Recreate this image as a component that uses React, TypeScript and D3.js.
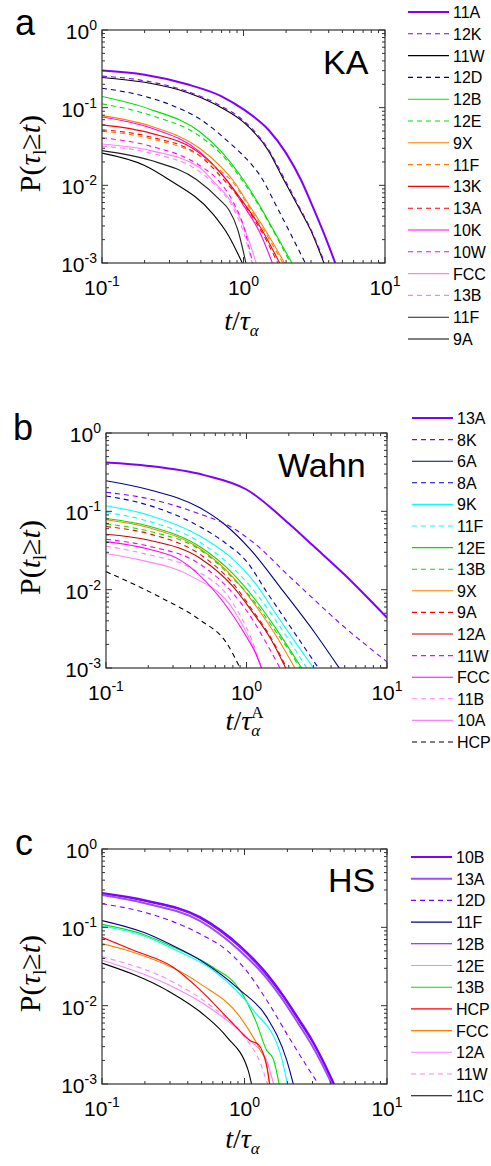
import React from "react";
import * as d3 from "d3";

type Pt = [number, number];

// ---------- Panel a (KA) ----------
const kaLabels = ["11A", "12K", "11W", "12D", "12B", "12E", "9X", "11F", "13K", "13A", "10K", "10W", "FCC", "13B", "11F", "9A"];
const ka11A: Pt[] = [[0.1, 0.30], [0.2, 0.265], [0.4, 0.2], [0.7, 0.14], [1, 0.095], [1.5, 0.052], [2, 0.026], [2.55, 0.0117], [3, 0.006], [3.7, 0.0024], [4.45, 0.001]];
const ka12K: Pt[] = [[0.1, 0.255], [0.2, 0.222], [0.4, 0.162], [0.7, 0.104], [1, 0.068], [1.5, 0.029], [1.9, 0.0132], [2.5, 0.0051], [3, 0.0027], [3.75, 0.001]];
const ka11W: Pt[] = [[0.1, 0.245], [0.2, 0.212], [0.4, 0.157], [0.7, 0.1], [1, 0.065], [1.5, 0.028], [1.88, 0.0128], [2.5, 0.0049], [3, 0.0026], [3.7, 0.001]];
const ka12D: Pt[] = [[0.1, 0.178], [0.2, 0.14], [0.3, 0.11], [0.5, 0.07], [0.8, 0.035], [1, 0.024], [1.36, 0.012], [1.7, 0.0055], [2.1, 0.0026], [2.73, 0.001]];
const ka12B: Pt[] = [[0.1, 0.139], [0.22, 0.095], [0.49, 0.049], [0.7, 0.027], [1, 0.0117], [1.3, 0.0055], [1.62, 0.0027], [2.2, 0.001]];
const ka12E: Pt[] = [[0.1, 0.112], [0.22, 0.08], [0.49, 0.043], [0.7, 0.025], [1, 0.011], [1.3, 0.0053], [1.62, 0.0026], [2.15, 0.001]];
const ka9X: Pt[] = [[0.1, 0.079], [0.22, 0.058], [0.49, 0.03], [0.7, 0.017], [0.84, 0.0117], [1.1, 0.0055], [1.4, 0.0028], [1.95, 0.001]];
const ka11Fo: Pt[] = [[0.1, 0.05], [0.22, 0.04], [0.49, 0.024], [0.7, 0.015], [0.84, 0.011], [1.1, 0.0052], [1.4, 0.0026], [1.9, 0.001]];
const ka13K: Pt[] = [[0.1, 0.06], [0.22, 0.047], [0.49, 0.026], [0.76, 0.0117], [1, 0.006], [1.3, 0.003], [1.8, 0.001]];
const ka13A: Pt[] = [[0.1, 0.052], [0.22, 0.042], [0.49, 0.024], [0.75, 0.011], [1, 0.0058], [1.3, 0.0028], [1.75, 0.001]];
const ka10K: Pt[] = [[0.1, 0.076], [0.22, 0.055], [0.49, 0.027], [0.76, 0.0117], [1, 0.0055], [1.3, 0.0025], [1.6, 0.001]];
const ka10W: Pt[] = [[0.1, 0.041], [0.22, 0.032], [0.49, 0.018], [0.66, 0.0117], [0.85, 0.006], [1.0, 0.003], [1.16, 0.001]];
const kaFCC: Pt[] = [[0.1, 0.034], [0.22, 0.028], [0.49, 0.017], [0.6, 0.0117], [0.85, 0.0055], [1.0, 0.003], [1.23, 0.001]];
const ka13B: Pt[] = [[0.1, 0.032], [0.22, 0.026], [0.49, 0.015], [0.6, 0.011], [0.85, 0.005], [1.0, 0.0025], [1.15, 0.001]];
const ka11Fk: Pt[] = [[0.1, 0.028], [0.22, 0.021], [0.47, 0.0117], [0.68, 0.0065], [0.79, 0.0048], [0.91, 0.0027], [1.04, 0.001]];
const ka9A: Pt[] = [[0.1, 0.026], [0.2, 0.018], [0.3, 0.0117], [0.6, 0.0044], [0.79, 0.0022], [0.98, 0.001]];
const kaValues: Pt[][] = [ka11A, ka12K, ka11W, ka12D, ka12B, ka12E, ka9X, ka11Fo, ka13K, ka13A, ka10K, ka10W, kaFCC, ka13B, ka11Fk, ka9A];

// ---------- Panel b (Wahn) ----------
const wLabels = ["13A", "8K", "6A", "8A", "9K", "11F", "12E", "13B", "9X", "9A", "12A", "11W", "FCC", "11B", "10A", "HCP"];
const w13A: Pt[] = [[0.1, 0.42], [0.2, 0.38], [0.5, 0.29], [1, 0.19], [2, 0.07], [3, 0.036], [5, 0.0155], [7, 0.0085], [10, 0.0044]];
const w8K: Pt[] = [[0.1, 0.175], [0.2, 0.145], [0.47, 0.092], [0.72, 0.068], [1.12, 0.04], [2, 0.015], [3, 0.0076], [5, 0.0033], [7, 0.002], [10, 0.0012]];
const w6A: Pt[] = [[0.1, 0.246], [0.2, 0.19], [0.47, 0.11], [0.7, 0.068], [1.06, 0.033], [1.83, 0.0095], [3.07, 0.0028], [4.57, 0.001]];
const w8A: Pt[] = [[0.1, 0.157], [0.2, 0.12], [0.47, 0.063], [0.7, 0.04], [1.0, 0.023], [1.4, 0.0092], [2.0, 0.0036], [2.6, 0.0018], [3.25, 0.001]];
const w9K: Pt[] = [[0.1, 0.118], [0.2, 0.09], [0.47, 0.048], [0.81, 0.024], [1.2, 0.011], [1.55, 0.0055], [2.2, 0.0022], [3.0, 0.001]];
const w11F: Pt[] = [[0.1, 0.097], [0.2, 0.075], [0.47, 0.04], [0.8, 0.019], [1.2, 0.0085], [1.55, 0.0045], [2.1, 0.002], [2.68, 0.001]];
const w12E: Pt[] = [[0.1, 0.081], [0.2, 0.065], [0.47, 0.035], [0.8, 0.016], [1.2, 0.0068], [1.6, 0.0033], [2.0, 0.0018], [2.47, 0.001]];
const w13B: Pt[] = [[0.1, 0.069], [0.2, 0.056], [0.47, 0.032], [0.8, 0.014], [1.2, 0.0062], [1.6, 0.003], [2.0, 0.0017], [2.4, 0.001]];
const w9X: Pt[] = [[0.1, 0.078], [0.2, 0.062], [0.47, 0.033], [0.8, 0.0145], [1.2, 0.0058], [1.6, 0.0027], [2.21, 0.001]];
const w9A: Pt[] = [[0.1, 0.064], [0.2, 0.052], [0.47, 0.028], [0.8, 0.012], [1.1, 0.0055], [1.5, 0.0024], [1.93, 0.001]];
const w12A: Pt[] = [[0.1, 0.051], [0.2, 0.043], [0.47, 0.025], [0.8, 0.011], [1.1, 0.0052], [1.5, 0.0023], [1.9, 0.001]];
const w11W: Pt[] = [[0.1, 0.044], [0.2, 0.036], [0.47, 0.021], [0.8, 0.009], [1.1, 0.0042], [1.4, 0.002], [1.73, 0.001]];
const wFCC: Pt[] = [[0.1, 0.041], [0.2, 0.033], [0.336, 0.024], [0.61, 0.009], [1.0, 0.0025], [1.15, 0.0016], [1.28, 0.001]];
const w11B: Pt[] = [[0.1, 0.036], [0.2, 0.028], [0.4, 0.019], [0.81, 0.0065], [1.1, 0.0022], [1.28, 0.001]];
const w10A: Pt[] = [[0.1, 0.029], [0.174, 0.024], [0.4, 0.015], [0.81, 0.0055], [1.11, 0.0019], [1.28, 0.001]];
const wHCP: Pt[] = [[0.1, 0.017], [0.24, 0.0081], [0.466, 0.0041], [0.72, 0.0021], [0.9, 0.001]];
const wValues: Pt[][] = [w13A, w8K, w6A, w8A, w9K, w11F, w12E, w13B, w9X, w9A, w12A, w11W, wFCC, w11B, w10A, wHCP];

// ---------- Panel c (HS) ----------
const hLabels = ["10B", "13A", "12D", "11F", "12B", "12E", "13B", "HCP", "FCC", "12A", "11W", "11C"];
const h10B: Pt[] = [[0.1, 0.275], [0.2, 0.222], [0.49, 0.135], [0.93, 0.058], [1.4, 0.027], [1.87, 0.0135], [2.4, 0.0068], [2.89, 0.004], [3.5, 0.0021], [4.25, 0.001]];
const h13A: Pt[] = [[0.1, 0.258], [0.2, 0.203], [0.49, 0.12], [0.93, 0.05], [1.4, 0.0235], [1.87, 0.0117], [2.4, 0.0058], [2.89, 0.0034], [3.5, 0.0018], [4.1, 0.001]];
const h12D: Pt[] = [[0.1, 0.2], [0.2, 0.155], [0.49, 0.082], [0.75, 0.051], [1.0, 0.03], [1.43, 0.0118], [2.04, 0.004], [2.73, 0.0017], [3.3, 0.001]];
const h11F: Pt[] = [[0.1, 0.122], [0.2, 0.085], [0.316, 0.058], [0.49, 0.038], [0.93, 0.0158], [1.43, 0.0072], [1.98, 0.002], [2.2, 0.001]];
const h12B: Pt[] = [[0.1, 0.27], [0.2, 0.215], [0.49, 0.13], [0.93, 0.055], [1.4, 0.0255], [1.87, 0.0128], [2.4, 0.0064], [2.89, 0.0038], [3.5, 0.002], [4.2, 0.001]];
const h12E: Pt[] = [[0.1, 0.104], [0.2, 0.077], [0.316, 0.053], [0.6, 0.0285], [1.15, 0.0088], [1.78, 0.0025], [2.0, 0.001]];
const h13B: Pt[] = [[0.1, 0.109], [0.2, 0.08], [0.316, 0.056], [0.6, 0.031], [0.93, 0.0158], [1.22, 0.0059], [1.43, 0.0027], [1.59, 0.0021], [1.75, 0.001]];
const hHCP: Pt[] = [[0.1, 0.0745], [0.166, 0.051], [0.316, 0.031], [0.49, 0.0158], [0.83, 0.0059], [1.09, 0.0036], [1.25, 0.0032], [1.35, 0.0025], [1.43, 0.0017], [1.5, 0.001]];
const hFCC: Pt[] = [[0.1, 0.062], [0.149, 0.051], [0.49, 0.019], [0.93, 0.0072], [1.29, 0.0027], [1.43, 0.0018], [1.5, 0.001]];
const h12A: Pt[] = [[0.1, 0.038], [0.284, 0.019], [0.6, 0.0088], [1.09, 0.0036], [1.43, 0.002], [1.6, 0.001]];
const h11W: Pt[] = [[0.1, 0.042], [0.3, 0.021], [0.6, 0.0095], [1.0, 0.004], [1.3, 0.0018], [1.45, 0.001]];
const h11C: Pt[] = [[0.1, 0.035], [0.284, 0.0158], [0.54, 0.0072], [0.75, 0.004], [1.06, 0.0015], [1.12, 0.001]];
const hValues: Pt[][] = [h10B, h13A, h12D, h11F, h12B, h12E, h13B, hHCP, hFCC, h12A, h11W, h11C];

const xTickVals = [0.1, 1, 10];
const yTickVals = [1, 0.1, 0.01, 0.001];

// ---------- styles ----------
type Sty = { c: string; d?: boolean; w?: number };
const PU = "#7f00ff", NV = "#00008b", GR = "#00e000", OR = "#ff8000", RD = "#ff0000", MG = "#ff00ff", PK = "#ff80ff", CY = "#00ffff", BK = "#000000";
const kaStyles: Sty[] = [
  { c: PU, w: 2 }, { c: PU, d: true }, { c: BK }, { c: NV, d: true }, { c: GR }, { c: GR, d: true },
  { c: OR }, { c: OR, d: true }, { c: RD }, { c: RD, d: true }, { c: MG }, { c: MG, d: true },
  { c: PK }, { c: PK, d: true }, { c: "#222" }, { c: BK },
];
const wStyles: Sty[] = [
  { c: PU, w: 2 }, { c: PU, d: true }, { c: NV }, { c: "#0000c0", d: true }, { c: CY }, { c: CY, d: true },
  { c: GR }, { c: GR, d: true }, { c: OR }, { c: RD, d: true }, { c: "#cc0000" }, { c: MG, d: true },
  { c: MG }, { c: PK, d: true }, { c: PK }, { c: BK, d: true },
];
const hStyles: Sty[] = [
  { c: PU, w: 2 }, { c: "#9b4dff", w: 2 }, { c: PU, d: true }, { c: NV }, { c: PU }, { c: CY },
  { c: GR }, { c: RD }, { c: OR }, { c: PK }, { c: PK, d: true }, { c: BK },
];

const SANS = "'Liberation Sans', Arial, sans-serif";
const SERIF = "'Liberation Serif', 'Times New Roman', serif";

type PanelProps = {
  id: string;
  x0: number; x1: number; y0: number; y1: number;
  values: Pt[][]; labels: string[]; styles: Sty[];
  legY: number; legStep: number; legX: number;
  letter: string; letterX: number; letterY: number;
  name: string; nameX: number; nameY: number;
  ylab: "tau" | "t"; xlabY: number; xlabA?: boolean;
};

function Panel(p: PanelProps) {
  const xs = d3.scaleLog().domain([0.1, 10]).range([p.x0, p.x1]);
  const ys = d3.scaleLog().domain([0.001, 1]).range([p.y1, p.y0]);
  const line = d3.line<Pt>().x((d) => xs(d[0])).y((d) => ys(d[1])).curve(d3.curveMonotoneX);
  const minorX: number[] = [];
  [0.1, 1].forEach((b) => { for (let k = 2; k <= 9; k++) minorX.push(b * k); });
  const minorY: number[] = [];
  [0.001, 0.01, 0.1].forEach((b) => { for (let k = 2; k <= 9; k++) minorY.push(b * k); });
  const ax = "#333";
  const cy = (p.y0 + p.y1) / 2 + 7;
  const cx = (p.x0 + p.x1) / 2;
  return (
    <g>
      <defs>
        <clipPath id={"clip" + p.id}>
          <rect x={p.x0} y={p.y0} width={p.x1 - p.x0} height={p.y1 - p.y0} />
        </clipPath>
      </defs>
      <g clipPath={`url(#clip${p.id})`}>
        {p.values.map((v, i) => (
          <path key={i} d={line(v) || ""} fill="none" stroke={p.styles[i].c}
            strokeWidth={p.styles[i].w || 1.1} strokeDasharray={p.styles[i].d ? "5,4" : undefined} />
        )).reverse()}
      </g>
      <rect x={p.x0} y={p.y0} width={p.x1 - p.x0} height={p.y1 - p.y0} fill="none" stroke={ax} strokeWidth={1.2} />
      {xTickVals.map((t) => (
        <g key={"xm" + t}>
          <line x1={xs(t)} x2={xs(t)} y1={p.y1} y2={p.y1 - 6} stroke={ax} />
          <line x1={xs(t)} x2={xs(t)} y1={p.y0} y2={p.y0 + 6} stroke={ax} />
          <text x={xs(t)} y={p.y1 + 32} textAnchor="middle" fontFamily={SANS} fontSize={21}>
            10<tspan dy={-9} fontSize={14}>{String(Math.round(Math.log10(t)))}</tspan>
          </text>
        </g>
      ))}
      {minorX.map((t) => (
        <g key={"xn" + t}>
          <line x1={xs(t)} x2={xs(t)} y1={p.y1} y2={p.y1 - 3} stroke={ax} />
          <line x1={xs(t)} x2={xs(t)} y1={p.y0} y2={p.y0 + 3} stroke={ax} />
        </g>
      ))}
      {yTickVals.map((t) => (
        <g key={"ym" + t}>
          <line x1={p.x0} x2={p.x0 + 6} y1={ys(t)} y2={ys(t)} stroke={ax} />
          <line x1={p.x1} x2={p.x1 - 6} y1={ys(t)} y2={ys(t)} stroke={ax} />
          <text x={p.x0 - 5} y={ys(t) + 9} textAnchor="end" fontFamily={SANS} fontSize={21}>
            10<tspan dy={-9} fontSize={14}>{String(Math.round(Math.log10(t)))}</tspan>
          </text>
        </g>
      ))}
      {minorY.map((t) => (
        <g key={"yn" + t}>
          <line x1={p.x0} x2={p.x0 + 3} y1={ys(t)} y2={ys(t)} stroke={ax} />
          <line x1={p.x1} x2={p.x1 - 3} y1={ys(t)} y2={ys(t)} stroke={ax} />
        </g>
      ))}
      {p.labels.map((lab, i) => {
        const y = p.legY + i * p.legStep;
        const s = p.styles[i];
        return (
          <g key={"lg" + i}>
            <line x1={p.legX} x2={p.legX + 41} y1={y} y2={y} stroke={s.c} strokeWidth={s.w || 1.1}
              strokeDasharray={s.d ? "5,4" : undefined} />
            <text x={p.legX + 45} y={y + 6} fontFamily={SANS} fontSize={16}>{lab}</text>
          </g>
        );
      })}
      <text x={p.letterX} y={p.letterY} fontFamily={SANS} fontSize={36}>{p.letter}</text>
      <text x={p.nameX} y={p.nameY} fontFamily={SANS} fontSize={34}>{p.name}</text>
      <text transform={`translate(40,${cy}) rotate(-90)`} textAnchor="middle" fontFamily={SERIF} fontSize={30}>
        P(<tspan fontStyle="italic">{p.ylab === "tau" ? "τ" : "t"}</tspan>
        <tspan dy={6} fontSize={18}>l</tspan>
        <tspan dy={-6}>≥</tspan>
        <tspan fontStyle="italic">t</tspan>)
      </text>
      <text x={cx - 2} y={p.xlabY} textAnchor="middle" fontFamily={SERIF} fontSize={28}>
        <tspan fontStyle="italic">t</tspan>/<tspan fontStyle="italic">τ</tspan>
        <tspan dy={6} fontSize={17} fontStyle="italic">α</tspan>
        {p.xlabA ? <tspan dx={-9} dy={-18} fontSize={17}>A</tspan> : null}
      </text>
    </g>
  );
}

export default function App() {
  return (
    <svg width={491} height={1166} style={{ position: "absolute", left: 0, top: 0, background: "#fff" }}>
      <rect width={491} height={1166} fill="#fff" />
      <Panel id="a" x0={102} x1={385} y0={30} y1={263} values={kaValues} labels={kaLabels} styles={kaStyles}
        legY={12} legStep={21.8} legX={408} letter="a" letterX={15} letterY={35}
        name="KA" nameX={323} nameY={74} ylab="tau" xlabY={330} />
      <Panel id="b" x0={106} x1={387} y0={433} y1={668} values={wValues} labels={wLabels} styles={wStyles}
        legY={418} legStep={21.6} legX={412} letter="b" letterX={13} letterY={440}
        name="Wahn" nameX={278} nameY={477} ylab="t" xlabY={730} xlabA />
      <Panel id="c" x0={102} x1={387} y0={849} y1={1084} values={hValues} labels={hLabels} styles={hStyles}
        legY={857} legStep={21.7} legX={411} letter="c" letterX={15} letterY={855}
        name="HS" nameX={328} nameY={892} ylab="tau" xlabY={1148} />
    </svg>
  );
}
